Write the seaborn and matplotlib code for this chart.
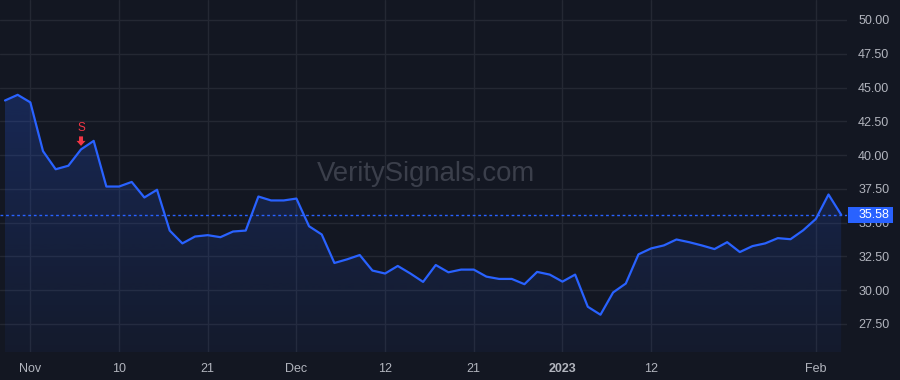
import numpy as np
import pandas as pd
import matplotlib
matplotlib.use("Agg")
import matplotlib.pyplot as plt
import seaborn as sns
from matplotlib.colors import to_rgb
from matplotlib.patches import Polygon, Rectangle
from matplotlib.transforms import IdentityTransform

# ---------------- data ----------------
holidays = ["2022-11-24", "2022-12-26", "2023-01-02", "2023-01-16"]
dates = [d for d in pd.bdate_range("2022-10-28", "2023-02-03")
         if d.strftime("%Y-%m-%d") not in holidays]

close = [44.04, 44.46, 43.90, 40.29, 38.95, 39.21, 40.42, 41.05, 37.67, 37.67,
         38.01, 36.86, 37.43, 34.41, 33.46, 33.97, 34.07, 33.92, 34.34, 34.41,
         36.93, 36.64, 36.64, 36.78, 34.73, 34.12, 32.01, 32.28, 32.60, 31.45,
         31.23, 31.79, 31.23, 30.61, 31.86, 31.32, 31.52, 31.52, 31.00, 30.83,
         30.83, 30.44, 31.35, 31.15, 30.63, 31.15, 28.77, 28.18, 29.83, 30.49,
         32.65, 33.09, 33.31, 33.75, 33.55, 33.31, 33.04, 33.55, 32.82, 33.26,
         33.46, 33.85, 33.77, 34.43, 35.27, 37.08, 35.58]
assert len(close) == len(dates)

last_price = 35.58
signal_dates = ["2022-11-07"]
signal_labels = ["S"]

tick_dates = ["2022-11-01", "2022-11-10", "2022-11-21", "2022-12-01", "2022-12-12",
              "2022-12-21", "2023-01-03", "2023-01-12", "2023-02-01"]
tick_labels = ["Nov", "10", "21", "Dec", "12", "21", "2023", "12", "Feb"]
ytick_values = [27.5, 30.0, 32.5, 35.0, 37.5, 40.0, 42.5, 45.0, 47.5, 50.0]

date_str = [d.strftime("%Y-%m-%d") for d in dates]
df = pd.DataFrame({"idx": np.arange(len(dates)), "close": close})

# ---------------- style ----------------
BG = "#131722"
GRID = "#242833"
TXT = "#b2b5be"
BLUE = "#2962ff"
RED = "#f23645"

sns.set_theme(style="dark")
plt.rcParams["font.family"] = ["Liberation Sans", "DejaVu Sans"]

W, H = 900, 380
fig = plt.figure(figsize=(9, 3.8), dpi=100, facecolor=BG)
ax = fig.add_axes([0, 28 / H, 847 / W, 1 - 28 / H])
ax.set_facecolor(BG)

ylo, yhi = 25.42, 51.48
xlo, xhi = -0.395, 66.46
ax.set_xlim(xlo, xhi)
ax.set_ylim(ylo, yhi)

# grid
for v in ytick_values:
    ax.axhline(v, color=GRID, lw=1, zorder=0)
tick_idx = [date_str.index(t) for t in tick_dates]
for i in tick_idx:
    ax.axvline(i, color=GRID, lw=1, zorder=0)

# gradient fill under the line
x = df["idx"].to_numpy()
y = df["close"].to_numpy()
poly = ax.fill_between(x, y, ylo, color="none", lw=0)
rgb = np.array(to_rgb(BLUE))
n = 256
img = np.zeros((n, 1, 4))
img[:, 0, :3] = rgb
img[:, 0, 3] = np.linspace(0.05, 0.23, n)
im = ax.imshow(img, extent=[x[0], x[-1], ylo, max(y)], origin="lower",
               aspect="auto", zorder=1)
im.set_clip_path(poly.get_paths()[0], transform=ax.transData)

# line
sns.lineplot(data=df, x="idx", y="close", ax=ax, color=BLUE, lw=1.6, zorder=3)

# last price dotted line
ax.axhline(last_price, color=BLUE, lw=1, ls=(0, (2, 2)), zorder=2)

# signal markers (block arrow + letter)
for sd, lab in zip(signal_dates, signal_labels):
    i = date_str.index(sd)
    v = close[i]
    px, py = ax.transData.transform((i, v))
    verts = [(px - 2, py + 13), (px + 2, py + 13), (px + 2, py + 8.5),
             (px + 4.5, py + 8.5), (px, py + 3.5), (px - 4.5, py + 8.5),
             (px - 2, py + 8.5)]
    fig.patches.append(Polygon(verts, closed=True, fc=RED, ec="none",
                               transform=IdentityTransform(), figure=fig))
    fig.text(px / W, (py + 21.5) / H, lab, color=RED, ha="center", va="center",
             fontsize=8.5)

# watermark
ax.text(0.5035, 0.505, "VeritySignals.com", transform=ax.transAxes, ha="center",
        va="center", fontsize=19.8, color="#3b3f4b", zorder=1)

# axes ticks
ax.set_xticks(tick_idx)
ax.set_xticklabels(tick_labels)
for lbl in ax.get_xticklabels():
    if lbl.get_text() == "2023":
        lbl.set_fontweight("bold")
ax.yaxis.tick_right()
ax.set_yticks(ytick_values)
ax.set_yticklabels([f"{v:.2f}" for v in ytick_values])
ax.tick_params(axis="both", length=0, colors=TXT, labelsize=9)
ax.tick_params(axis="x", pad=8)
ax.tick_params(axis="y", pad=8)
ax.set_xlabel("")
ax.set_ylabel("")
ax.grid(False)
for s in ax.spines.values():
    s.set_visible(False)

# last price label box (covers the 35.00 label as in the original)
_, ly = ax.transData.transform((0, last_price))
fig.patches.append(Rectangle((848, ly - 8), 45, 16, fc=BLUE, ec="none",
                             transform=IdentityTransform(), figure=fig, zorder=5))
fig.text(859 / W, ly / H, f"{last_price:.2f}", color="white", ha="left",
         va="center", fontsize=9, zorder=6)

fig.savefig("out.png", dpi=100, facecolor=BG)
